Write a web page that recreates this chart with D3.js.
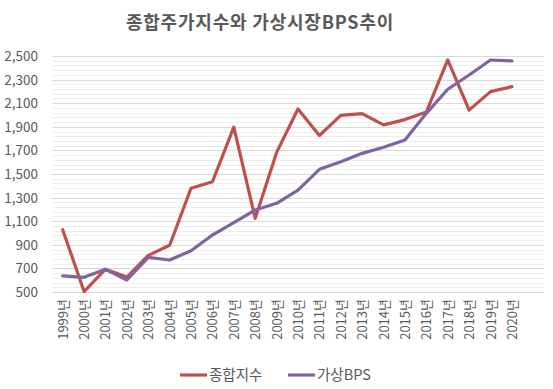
<!DOCTYPE html>
<html>
<head>
<meta charset="utf-8">
<script src="https://cdn.jsdelivr.net/npm/d3@7"></script>
<style>
  body { margin: 0; background: #fff; }
  text { font-family: "Noto Sans CJK KR", "Noto Sans", sans-serif; fill: #595959; }
</style>
</head>
<body>
<div id="chart"></div>
<script>
        // data
        var years = ["1999", "2000", "2001", "2002", "2003", "2004", "2005", "2006", "2007", "2008", "2009",
                     "2010", "2011", "2012", "2013", "2014", "2015", "2016", "2017", "2018", "2019", "2020"];
        var kospi = [1028, 504, 693, 627, 810, 896, 1379, 1434, 1897, 1124, 1683,
                     2051, 1826, 1997, 2011, 1916, 1961, 2026, 2467, 2041, 2198, 2240];
        var bps = [636, 624, 692, 602, 794, 771, 850, 983, 1087, 1195, 1252,
                   1364, 1540, 1604, 1675, 1726, 1788, 2014, 2218, 2339, 2466, 2458];
        var yTicks = [500, 700, 900, 1100, 1300, 1500, 1700, 1900, 2100, 2300, 2500];
        var seriesNames = ["종합지수", "가상BPS"];
        var colors = ["#C0504D", "#8064A2"];

        var W = 553, H = 389;
        var plot = {left: 52, right: 544, top: 56, bottom: 292};

        var svg = d3.select("#chart").append("svg")
            .attr("width", W)
            .attr("height", H);

        // 22 years + one empty slot at the end, like the reference
        var x = d3.scaleBand()
            .domain(years.concat(["_"]))
            .range([plot.left, plot.right]);
        var y = d3.scaleLinear().domain([500, 2500]).range([plot.bottom, plot.top]);

        // minor gridlines
        svg.append("g").selectAll("line")
            .data(d3.range(500, 2501, 40).filter(function(v) { return (v - 500) % 200 !== 0; }))
            .enter().append("line")
            .attr("x1", plot.left).attr("x2", plot.right)
            .attr("y1", function(d) { return Math.round(y(d)) + 0.5; })
            .attr("y2", function(d) { return Math.round(y(d)) + 0.5; })
            .attr("stroke", "#eeeeee");

        // major gridlines
        svg.append("g").selectAll("line")
            .data(yTicks)
            .enter().append("line")
            .attr("x1", plot.left).attr("x2", plot.right)
            .attr("y1", function(d) { return Math.round(y(d)) + 0.5; })
            .attr("y2", function(d) { return Math.round(y(d)) + 0.5; })
            .attr("stroke", "#d9d9d9");

        // y axis labels
        var fmt = d3.format(",");
        svg.append("g").selectAll("text")
            .data(yTicks)
            .enter().append("text")
            .attr("x", 38)
            .attr("y", function(d) { return y(d) + 5; })
            .attr("text-anchor", "end")
            .style("font-size", "13.5px")
            .text(function(d) { return fmt(d); });

        // x axis labels
        svg.append("g").selectAll("text")
            .data(years)
            .enter().append("text")
            .attr("transform", function(d) {
                return "translate(" + (x(d) + x.bandwidth() / 2 + 5) + "," + 299 + ") rotate(-90)";
            })
            .attr("text-anchor", "end")
            .style("font-size", "13px")
            .text(function(d) { return d + "년"; });

        // lines
        [kospi, bps].forEach(function(vals, i) {
            var line = d3.line()
                .x(function(d, j) { return x(years[j]) + x.bandwidth() / 2; })
                .y(function(d) { return y(d); });
            svg.append("path")
                .datum(vals)
                .attr("d", line)
                .attr("fill", "none")
                .attr("stroke", colors[i])
                .attr("stroke-width", 3.2)
                .attr("stroke-linejoin", "round")
                .attr("stroke-linecap", "round");
        });

        // title
        svg.append("text")
            .attr("x", 260)
            .attr("y", 29)
            .attr("text-anchor", "middle")
            .style("font-size", "18px")
            .style("font-weight", "bold")
            .style("letter-spacing", "0.8px")
            .text("종합주가지수와  가상시장BPS추이");

        // legend
        var legX = [180, 288];
        seriesNames.forEach(function(name, i) {
            var g = svg.append("g");
            g.append("line")
                .attr("x1", legX[i]).attr("x2", legX[i] + 27)
                .attr("y1", 375).attr("y2", 375)
                .attr("stroke", colors[i])
                .attr("stroke-width", 3.2);
            g.append("text")
                .attr("x", legX[i] + 29)
                .attr("y", 380)
                .style("font-size", "14.5px")
                .text(name);
        });
</script>
</body>
</html>
